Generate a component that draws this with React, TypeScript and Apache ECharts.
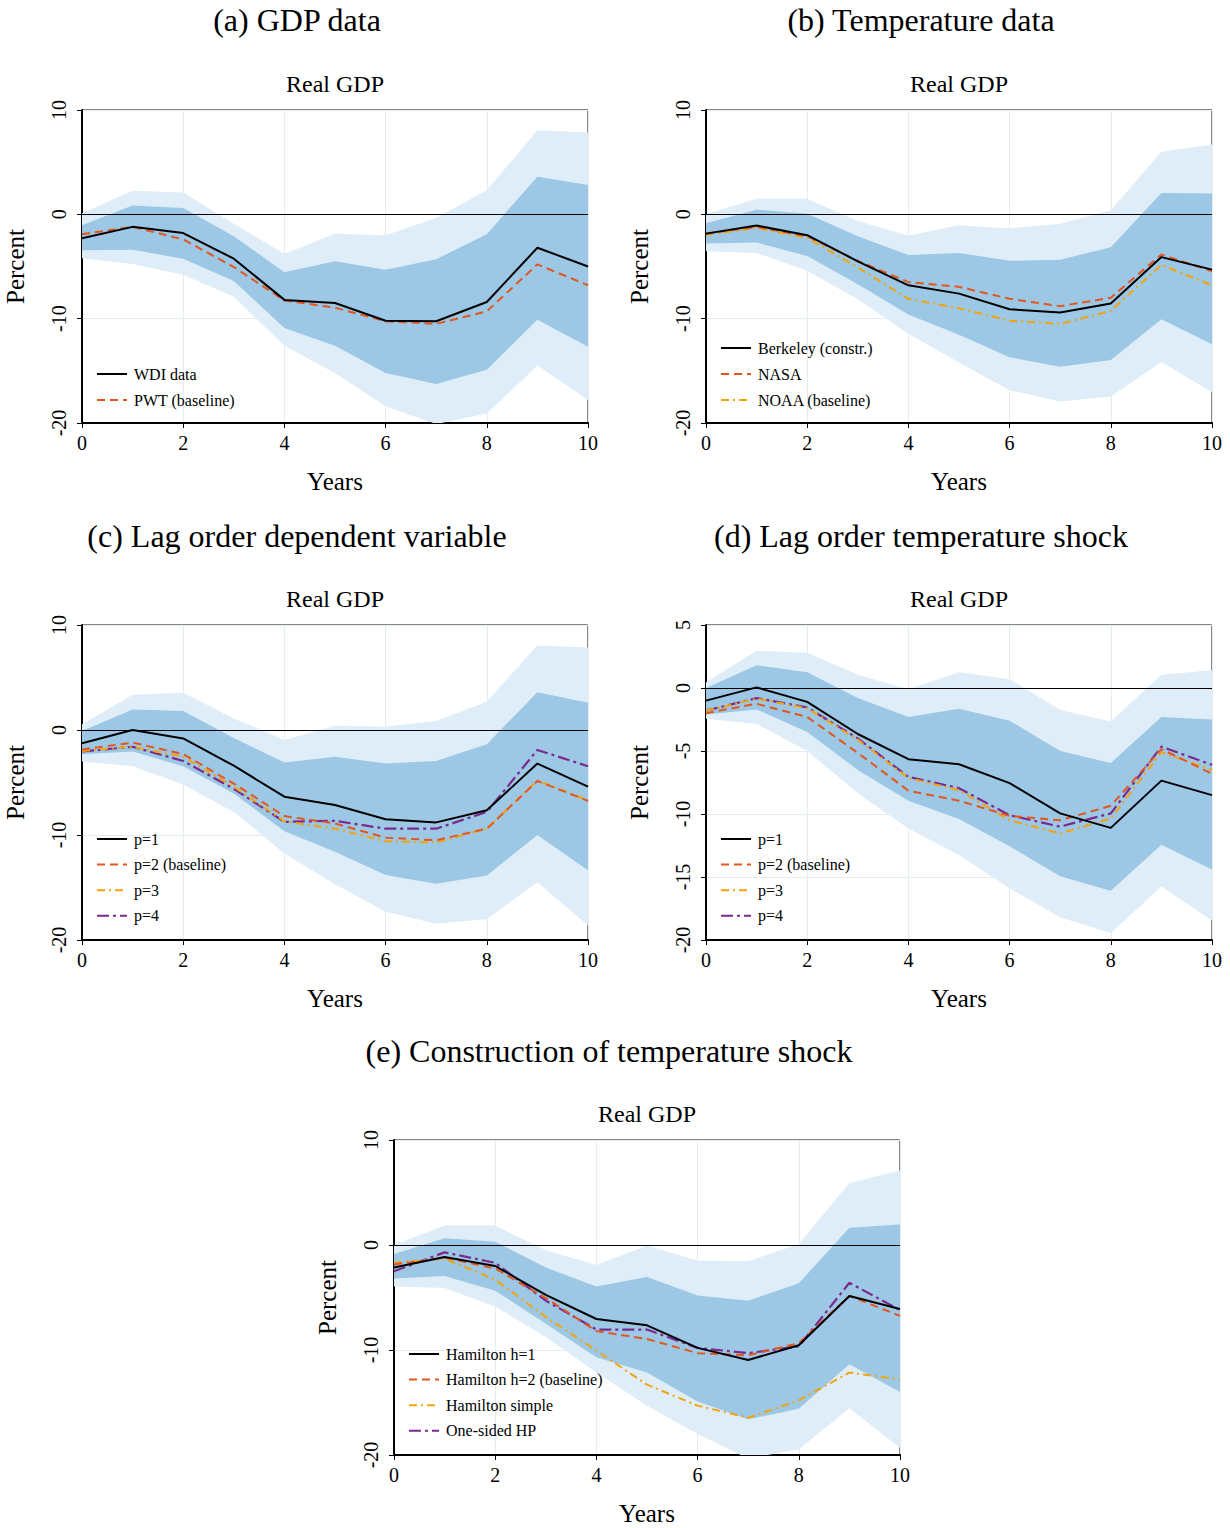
import React, { useEffect, useRef } from "react";
import * as echarts from "echarts";

const FONT = "'Liberation Serif', 'Times New Roman', serif";

const years = [0, 1, 2, 3, 4, 5, 6, 7, 8, 9, 10];

// (a) GDP data
const aWDI = [-2.3, -1.2, -1.8, -4.25, -8.2, -8.5, -10.2, -10.25, -8.4, -3.2, -5.0];
const aPWT = [-1.9, -1.2, -2.4, -5.05, -8.25, -8.95, -10.25, -10.5, -9.3, -4.8, -6.8];
const aHi68 = [-1.05, 0.85, 0.6, -2.1, -5.55, -4.5, -5.3, -4.3, -1.9, 3.6, 2.8];
const aLo68 = [-3.45, -3.4, -4.25, -6.4, -10.9, -12.6, -15.2, -16.25, -14.9, -10.1, -12.7];
const aHi90 = [0.1, 2.25, 2.1, -0.9, -3.8, -1.85, -2.0, -0.35, 2.3, 8.05, 7.85];
const aLo90 = [-4.2, -4.75, -5.8, -7.9, -12.6, -15.2, -18.4, -20.1, -19.1, -14.5, -17.8];

// (b) Temperature data
const bBerk = [-1.85, -1.08, -2.0, -4.5, -6.8, -7.6, -9.1, -9.4, -8.55, -4.1, -5.3];
const bNASA = [-1.85, -1.2, -2.1, -4.45, -6.5, -6.95, -8.1, -8.8, -8.0, -3.85, -5.45];
const bNOAA = [-1.95, -1.3, -2.25, -5.1, -8.1, -9.0, -10.2, -10.5, -9.25, -4.85, -6.8];
const bHi68 = [-0.85, 0.45, 0.05, -2.1, -3.9, -3.7, -4.45, -4.35, -3.15, 2.05, 2.0];
const bLo68 = [-2.8, -2.7, -4.0, -6.7, -9.6, -11.55, -13.7, -14.6, -13.95, -10.05, -12.45];
const bHi90 = [0.0, 1.5, 1.5, -0.65, -2.05, -1.05, -1.35, -0.9, 0.4, 6.0, 6.7];
const bLo90 = [-3.55, -3.7, -5.4, -8.15, -11.45, -14.2, -16.85, -17.95, -17.45, -14.15, -17.05];

// (c) Lag order dependent variable
const cP1 = [-1.27, 0.0, -0.8, -3.4, -6.35, -7.15, -8.5, -8.8, -7.65, -3.2, -5.4];
const cP2 = [-1.85, -1.2, -2.3, -5.1, -8.2, -8.9, -10.25, -10.5, -9.4, -4.85, -6.75];
const cP3 = [-2.0, -1.6, -2.55, -5.4, -8.7, -9.4, -10.6, -10.7, -9.4, -4.8, -6.7];
const cP4 = [-2.05, -1.6, -2.95, -5.6, -8.75, -8.65, -9.4, -9.4, -7.8, -1.9, -3.45];
const cHi68 = [-0.1, 1.95, 1.8, -0.75, -3.1, -2.55, -3.2, -2.95, -1.35, 3.6, 2.6];
const cLo68 = [-2.3, -2.05, -3.45, -6.05, -9.65, -11.6, -13.8, -14.65, -13.85, -10.0, -13.35];
const cHi90 = [0.55, 3.35, 3.55, 1.1, -0.95, 0.4, 0.3, 0.85, 2.7, 8.05, 7.85];
const cLo90 = [-3.0, -3.45, -5.2, -7.8, -11.75, -14.7, -17.3, -18.45, -18.0, -14.5, -18.6];

// (d) Lag order temperature shock
const dP1 = [-1.0, 0.05, -1.1, -3.65, -5.65, -6.05, -7.55, -9.95, -11.1, -7.35, -8.5];
const dP2 = [-2.0, -1.25, -2.3, -5.15, -8.15, -8.95, -10.15, -10.5, -9.35, -4.85, -6.8];
const dP3 = [-1.8, -0.85, -1.6, -4.1, -7.15, -8.1, -10.5, -11.55, -10.35, -5.1, -6.5];
const dP4 = [-1.8, -0.8, -1.55, -4.0, -7.05, -7.95, -10.1, -11.0, -9.95, -4.65, -6.1];
const dHi68 = [0.0, 1.8, 1.25, -0.8, -2.3, -1.65, -2.6, -5.0, -5.95, -2.3, -2.5];
const dLo68 = [-2.1, -1.7, -3.5, -6.5, -8.95, -10.4, -12.55, -14.95, -16.1, -12.45, -14.4];
const dHi90 = [0.45, 2.95, 2.8, 1.05, -0.1, 1.25, 0.7, -1.75, -2.65, 1.05, 1.4];
const dLo90 = [-2.45, -2.85, -5.0, -8.35, -11.15, -13.25, -15.9, -18.2, -19.45, -15.75, -18.45];

// (e) Construction of temperature shock
const eH1 = [-2.15, -1.15, -2.0, -4.75, -7.05, -7.65, -9.8, -10.95, -9.55, -4.85, -6.1];
const eH2 = [-1.85, -1.2, -2.25, -5.05, -8.2, -8.95, -10.3, -10.5, -9.35, -4.85, -6.75];
const eHS = [-1.7, -1.3, -3.3, -6.85, -10.05, -13.3, -15.3, -16.45, -14.8, -12.15, -12.8];
const eHP = [-2.5, -0.7, -1.7, -5.3, -8.05, -8.05, -9.8, -10.3, -9.65, -3.6, -6.2];
const eHi68 = [-0.85, 0.65, 0.3, -2.15, -3.95, -3.05, -4.8, -5.3, -3.65, 1.65, 1.95];
const eLo68 = [-3.2, -2.95, -4.35, -7.5, -10.7, -12.15, -14.9, -16.6, -15.6, -11.35, -14.0];
const eHi90 = [0.0, 1.85, 1.85, -0.5, -1.9, -0.05, -1.5, -1.55, 0.1, 5.9, 7.1];
const eLo90 = [-3.95, -4.1, -5.85, -8.75, -12.15, -15.3, -18.0, -20.35, -19.45, -15.55, -19.3];

const panelTitles = [
  "(a) GDP data",
  "(b) Temperature data",
  "(c) Lag order dependent variable",
  "(d) Lag order temperature shock",
  "(e) Construction of temperature shock",
];
const subTitle = "Real GDP";
const xName = "Years";
const yName = "Percent";

const LIGHT = "#deedf7";
const DARK = "#9cc7e5";

const STYLES: Record<string, any> = {
  black: { color: "#000000", width: 2, type: "solid" },
  orange: { color: "#e2561f", width: 2, type: [8, 5] },
  yellow: { color: "#f2a40d", width: 2, type: [8, 4, 2, 4] },
  purple: { color: "#7b2a8e", width: 2.2, type: [12, 4, 3, 4] },
};

type LineDef = { name: string; data: number[]; style: string };
type PanelDef = {
  left: number;
  top: number;
  height: number;
  ymin: number;
  ymax: number;
  yint: number;
  hi90: number[];
  lo90: number[];
  hi68: number[];
  lo68: number[];
  lines: LineDef[];
  legendTop: number;
  legendGap: number;
};

const PANELS: PanelDef[] = [
  {
    left: 82, top: 110, height: 313, ymin: -20, ymax: 10, yint: 10,
    hi90: aHi90, lo90: aLo90, hi68: aHi68, lo68: aLo68,
    lines: [
      { name: "WDI data", data: aWDI, style: "black" },
      { name: "PWT (baseline)", data: aPWT, style: "orange" },
    ],
    legendTop: 361, legendGap: 10,
  },
  {
    left: 706, top: 110, height: 313, ymin: -20, ymax: 10, yint: 10,
    hi90: bHi90, lo90: bLo90, hi68: bHi68, lo68: bLo68,
    lines: [
      { name: "Berkeley (constr.)", data: bBerk, style: "black" },
      { name: "NASA", data: bNASA, style: "orange" },
      { name: "NOAA (baseline)", data: bNOAA, style: "yellow" },
    ],
    legendTop: 335, legendGap: 10,
  },
  {
    left: 82, top: 625, height: 315, ymin: -20, ymax: 10, yint: 10,
    hi90: cHi90, lo90: cLo90, hi68: cHi68, lo68: cLo68,
    lines: [
      { name: "p=1", data: cP1, style: "black" },
      { name: "p=2 (baseline)", data: cP2, style: "orange" },
      { name: "p=3", data: cP3, style: "yellow" },
      { name: "p=4", data: cP4, style: "purple" },
    ],
    legendTop: 826, legendGap: 9.6,
  },
  {
    left: 706, top: 625, height: 315, ymin: -20, ymax: 5, yint: 5,
    hi90: dHi90, lo90: dLo90, hi68: dHi68, lo68: dLo68,
    lines: [
      { name: "p=1", data: dP1, style: "black" },
      { name: "p=2 (baseline)", data: dP2, style: "orange" },
      { name: "p=3", data: dP3, style: "yellow" },
      { name: "p=4", data: dP4, style: "purple" },
    ],
    legendTop: 826, legendGap: 9.6,
  },
  {
    left: 394, top: 1140, height: 315, ymin: -20, ymax: 10, yint: 10,
    hi90: eHi90, lo90: eLo90, hi68: eHi68, lo68: eLo68,
    lines: [
      { name: "Hamilton h=1", data: eH1, style: "black" },
      { name: "Hamilton h=2 (baseline)", data: eH2, style: "orange" },
      { name: "Hamilton simple", data: eHS, style: "yellow" },
      { name: "One-sided HP", data: eHP, style: "purple" },
    ],
    legendTop: 1341, legendGap: 9.6,
  },
];

const PLOT_W = 506;

function bandRenderer(color: string) {
  return (params: any, api: any) => {
    if (params.dataIndexInside !== 0) return null;
    const n = params.dataInsideLength;
    const upper: number[][] = [];
    const lower: number[][] = [];
    for (let k = 0; k < n; k++) {
      const x = api.value(0, k);
      lower.push(api.coord([x, api.value(1, k)]));
      upper.push(api.coord([x, api.value(2, k)]));
    }
    return {
      type: "polygon",
      shape: { points: upper.concat(lower.reverse()) },
      style: { fill: color, stroke: null },
      silent: true,
    };
  };
}

function buildOption() {
  const grid: any[] = [];
  const xAxis: any[] = [];
  const yAxis: any[] = [];
  const series: any[] = [];
  const legend: any[] = [];
  const graphic: any[] = [];

  PANELS.forEach((p, i) => {
    grid.push({
      left: p.left, top: p.top, width: PLOT_W, height: p.height,
      show: true, borderColor: "#111", borderWidth: 1, backgroundColor: "#ffffff",
      containLabel: false,
    });
    xAxis.push({
      type: "value", gridIndex: i, min: 0, max: 10, interval: 2,
      name: xName, nameLocation: "middle", nameGap: 46,
      nameTextStyle: { fontFamily: FONT, fontSize: 25, color: "#000" },
      axisLine: { show: true, onZero: false, lineStyle: { color: "#000", width: 2 } },
      axisTick: { show: true, length: 5, lineStyle: { color: "#000", width: 1 } },
      axisLabel: { fontFamily: FONT, fontSize: 20, color: "#000", margin: 10 },
      splitLine: { show: true, lineStyle: { color: "#e3edf2", width: 1 } },
    });
    yAxis.push({
      type: "value", gridIndex: i, min: p.ymin, max: p.ymax, interval: p.yint,
      name: yName, nameLocation: "middle", nameGap: 54, nameRotate: 90,
      nameTextStyle: { fontFamily: FONT, fontSize: 25, color: "#000" },
      axisLine: { show: true, onZero: false, lineStyle: { color: "#000", width: 2 } },
      axisTick: { show: true, length: 5, lineStyle: { color: "#000", width: 1 } },
      axisLabel: { fontFamily: FONT, fontSize: 20, color: "#000", rotate: 90, margin: 13 },
      splitLine: { show: true, lineStyle: { color: "#e3edf2", width: 1 } },
    });

    const band = (lo: number[], hi: number[], color: string, key: string) => {
      series.push({
        type: "custom", name: `band-${i}-${key}`, xAxisIndex: i, yAxisIndex: i,
        data: years.map((x, k) => [x, lo[k], hi[k]]),
        encode: { x: 0, y: [1, 2] },
        renderItem: bandRenderer(color),
        clip: true, silent: true, z: 1,
      });
    };
    band(p.lo90, p.hi90, LIGHT, "90");
    band(p.lo68, p.hi68, DARK, "68");

    p.lines.forEach((l, j) => {
      const s: any = {
        type: "line", name: l.name, xAxisIndex: i, yAxisIndex: i,
        data: years.map((x, k) => [x, l.data[k]]),
        symbol: "none", showSymbol: false,
        lineStyle: { ...STYLES[l.style] },
        itemStyle: { color: STYLES[l.style].color },
        z: 8 - j * 0.1,
      };
      if (j === 0) {
        s.markLine = {
          silent: true, symbol: "none", label: { show: false },
          lineStyle: { color: "#000", width: 1, type: "solid" },
          data: [{ yAxis: 0 }],
        };
      }
      series.push(s);
    });

    legend.push({
      orient: "vertical",
      left: p.left + 9,
      top: p.legendTop,
      itemGap: p.legendGap,
      itemWidth: 30,
      itemHeight: 14,
      data: p.lines.map((l) => l.name),
      itemStyle: { opacity: 0 },
      textStyle: { fontFamily: FONT, fontSize: 16, color: "#000", padding: [0, 0, 0, 2] },
      selectedMode: false,
      backgroundColor: "transparent",
    });

    const cx = p.left + PLOT_W / 2;
    graphic.push({
      type: "text", x: cx, y: p.top - 26,
      style: { text: subTitle, fontFamily: FONT, fontSize: 24, fill: "#000", textAlign: "center", textVerticalAlign: "middle" },
    });
  });

  const titlePos = [
    [297, 20], [921, 20], [297, 536], [921, 536], [609, 1051],
  ];
  panelTitles.forEach((t, i) => {
    graphic.push({
      type: "text", x: titlePos[i][0], y: titlePos[i][1],
      style: { text: t, fontFamily: FONT, fontSize: 32, fill: "#000", textAlign: "center", textVerticalAlign: "middle" },
    });
  });

  return {
    animation: false,
    backgroundColor: "#ffffff",
    grid, xAxis, yAxis, series, legend, graphic,
  };
}

export default function App() {
  const ref = useRef<HTMLDivElement>(null);
  useEffect(() => {
    document.body.style.margin = "0";
    if (!ref.current) return;
    const chart = echarts.init(ref.current, undefined, { renderer: "svg" });
    chart.setOption(buildOption() as any);
    return () => {
      chart.dispose();
    };
  }, []);
  return <div ref={ref} style={{ width: 1230, height: 1528, background: "#fff" }} />;
}
